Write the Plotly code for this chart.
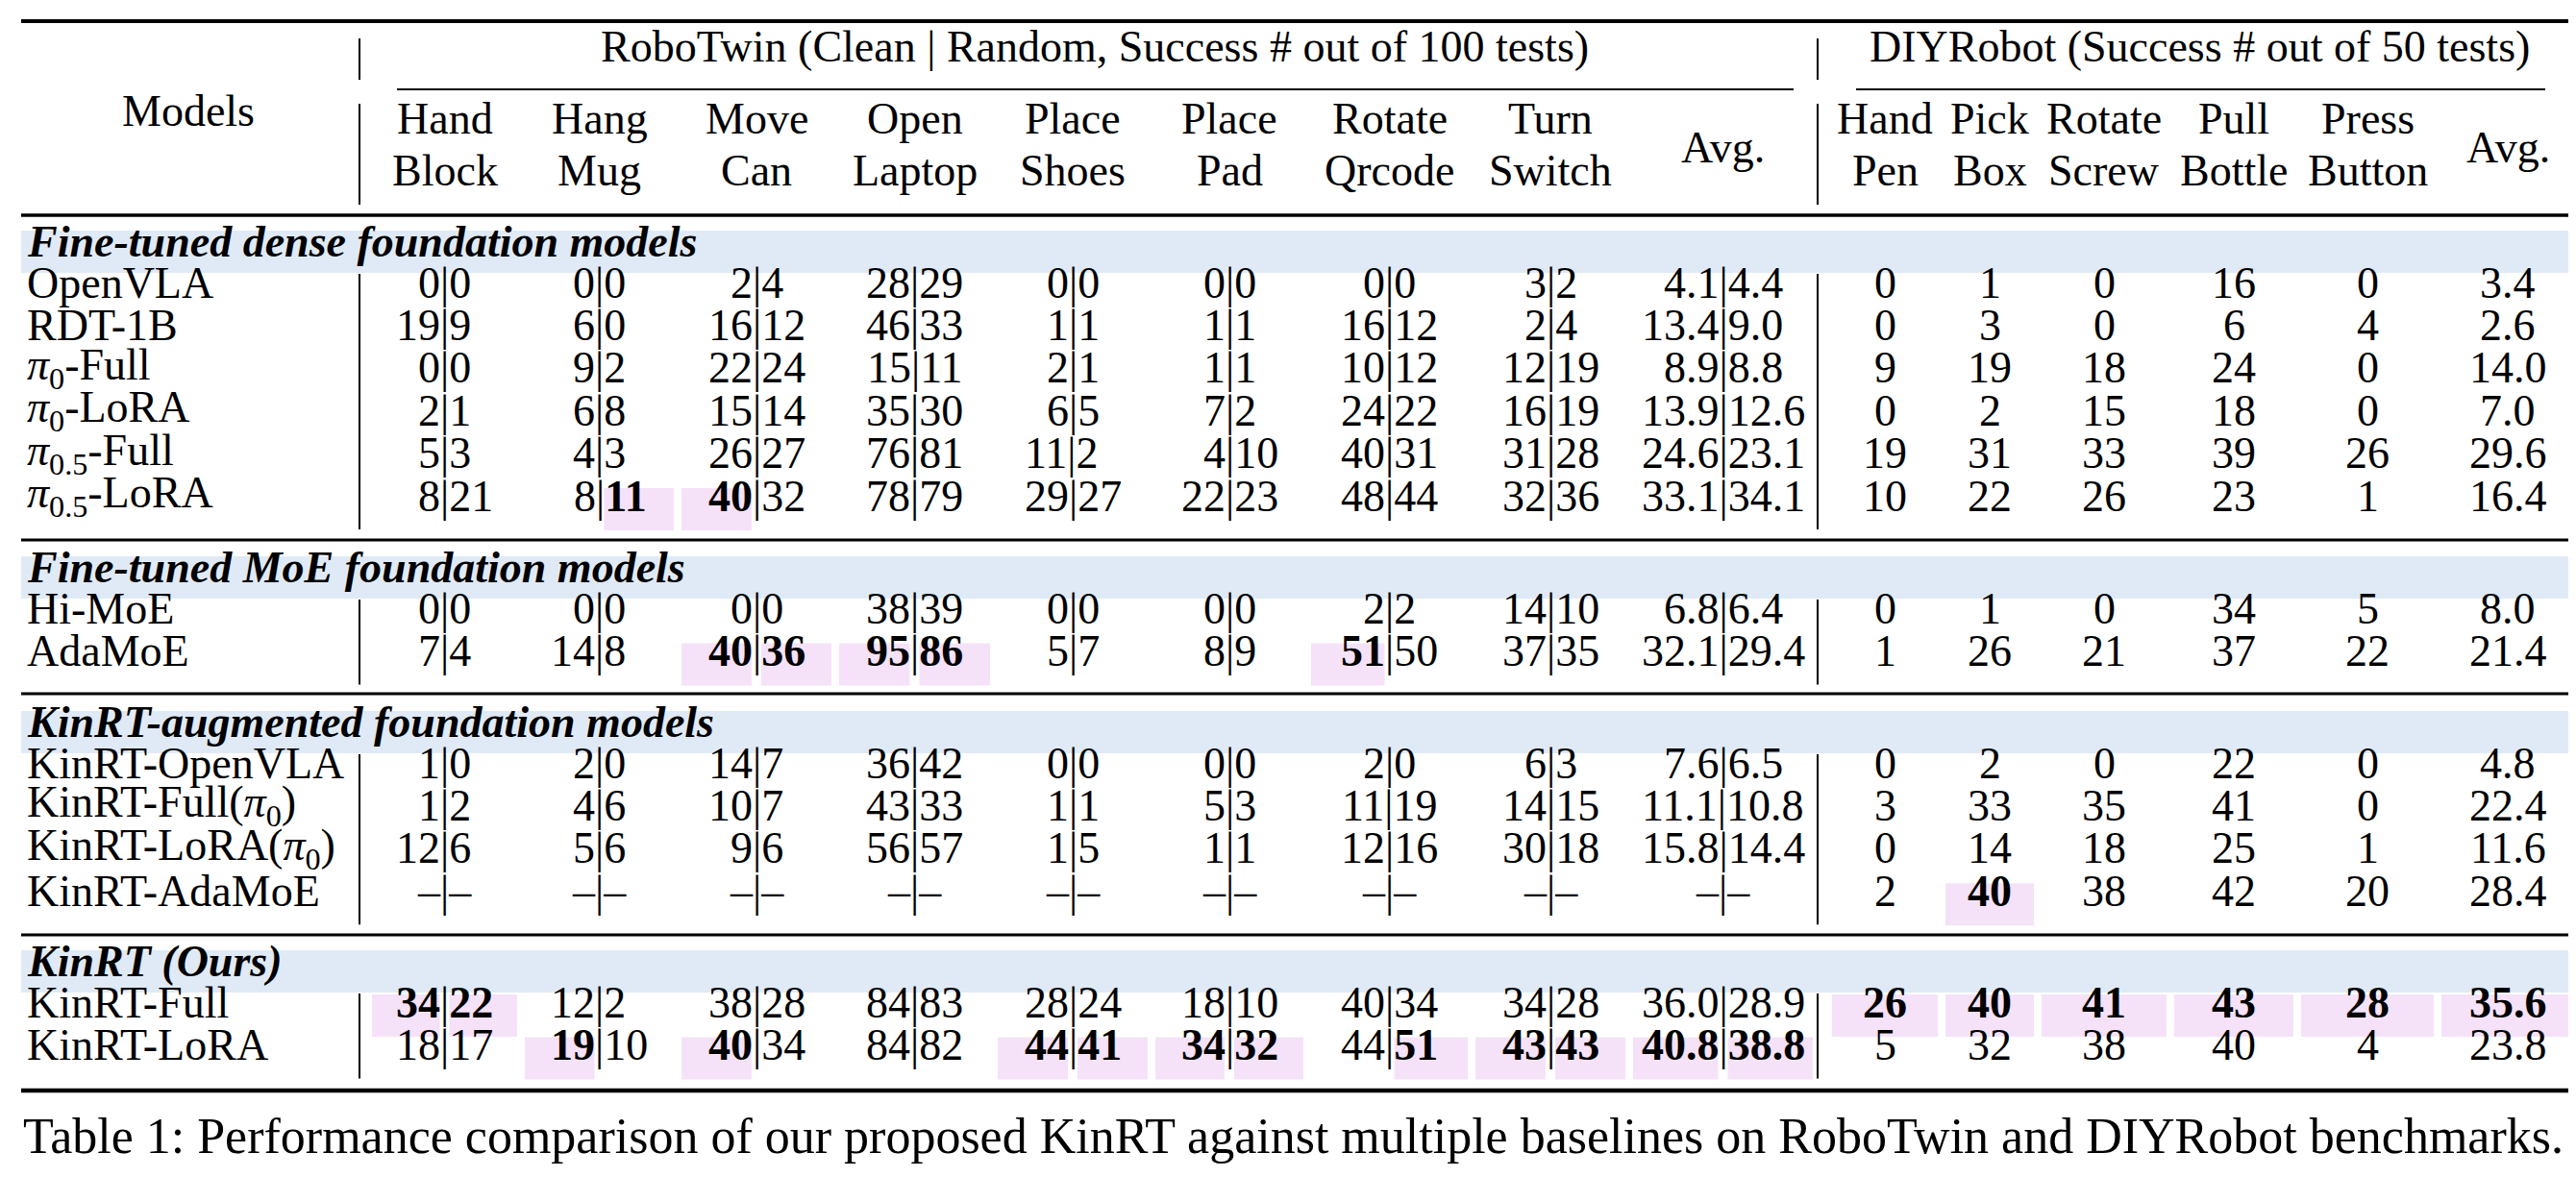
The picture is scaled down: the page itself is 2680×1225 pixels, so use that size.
"""Table 1: KinRT vs baselines on RoboTwin and DIYRobot, drawn as a Plotly figure."""

import plotly.graph_objects as go

# ---- data -----------------------------------------------------------------
MODELS = [
    "OpenVLA", "RDT-1B",
    "<i>π</i><sub>0</sub>-Full", "<i>π</i><sub>0</sub>-LoRA",
    "<i>π</i><sub>0.5</sub>-Full", "<i>π</i><sub>0.5</sub>-LoRA",
    "Hi-MoE", "AdaMoE",
    "KinRT-OpenVLA", "KinRT-Full(<i>π</i><sub>0</sub>)",
    "KinRT-LoRA(<i>π</i><sub>0</sub>)", "KinRT-AdaMoE",
    "KinRT-Full", "KinRT-LoRA",
]
GROUPS = [
    "Fine-tuned dense foundation models",
    "Fine-tuned MoE foundation models",
    "KinRT-augmented foundation models",
    "KinRT (Ours)",
]
GROUP_SIZES = [6, 2, 4, 2]

ROBOTWIN_TITLE = "RoboTwin (Clean | Random, Success # out of 100 tests)"
DIY_TITLE = "DIYRobot (Success # out of 50 tests)"
ROBOTWIN_TASKS = [
    ("Hand", "Block"), ("Hang", "Mug"), ("Move", "Can"), ("Open", "Laptop"),
    ("Place", "Shoes"), ("Place", "Pad"), ("Rotate", "Qrcode"), ("Turn", "Switch"),
    ("Avg.", None),
]
DIY_TASKS = [
    ("Hand", "Pen"), ("Pick", "Box"), ("Rotate", "Screw"), ("Pull", "Bottle"),
    ("Press", "Button"), ("Avg.", None),
]

# RoboTwin: clean | random (None = not evaluated)
HAND_BLOCK_CLEAN = [0, 19, 0, 2, 5, 8, 0, 7, 1, 1, 12, None, 34, 18]
HAND_BLOCK_RANDOM = [0, 9, 0, 1, 3, 21, 0, 4, 0, 2, 6, None, 22, 17]
HANG_MUG_CLEAN = [0, 6, 9, 6, 4, 8, 0, 14, 2, 4, 5, None, 12, 19]
HANG_MUG_RANDOM = [0, 0, 2, 8, 3, 11, 0, 8, 0, 6, 6, None, 2, 10]
MOVE_CAN_CLEAN = [2, 16, 22, 15, 26, 40, 0, 40, 14, 10, 9, None, 38, 40]
MOVE_CAN_RANDOM = [4, 12, 24, 14, 27, 32, 0, 36, 7, 7, 6, None, 28, 34]
OPEN_LAPTOP_CLEAN = [28, 46, 15, 35, 76, 78, 38, 95, 36, 43, 56, None, 84, 84]
OPEN_LAPTOP_RANDOM = [29, 33, 11, 30, 81, 79, 39, 86, 42, 33, 57, None, 83, 82]
PLACE_SHOES_CLEAN = [0, 1, 2, 6, 11, 29, 0, 5, 0, 1, 1, None, 28, 44]
PLACE_SHOES_RANDOM = [0, 1, 1, 5, 2, 27, 0, 7, 0, 1, 5, None, 24, 41]
PLACE_PAD_CLEAN = [0, 1, 1, 7, 4, 22, 0, 8, 0, 5, 1, None, 18, 34]
PLACE_PAD_RANDOM = [0, 1, 1, 2, 10, 23, 0, 9, 0, 3, 1, None, 10, 32]
ROTATE_QRCODE_CLEAN = [0, 16, 10, 24, 40, 48, 2, 51, 2, 11, 12, None, 40, 44]
ROTATE_QRCODE_RANDOM = [0, 12, 12, 22, 31, 44, 2, 50, 0, 19, 16, None, 34, 51]
TURN_SWITCH_CLEAN = [3, 2, 12, 16, 31, 32, 14, 37, 6, 14, 30, None, 34, 43]
TURN_SWITCH_RANDOM = [2, 4, 19, 19, 28, 36, 10, 35, 3, 15, 18, None, 28, 43]
RT_AVG_CLEAN = [4.1, 13.4, 8.9, 13.9, 24.6, 33.1, 6.8, 32.1, 7.6, 11.1, 15.8, None, 36.0, 40.8]
RT_AVG_RANDOM = [4.4, 9.0, 8.8, 12.6, 23.1, 34.1, 6.4, 29.4, 6.5, 10.8, 14.4, None, 28.9, 38.8]

# DIYRobot
HAND_PEN = [0, 0, 9, 0, 19, 10, 0, 1, 0, 3, 0, 2, 26, 5]
PICK_BOX = [1, 3, 19, 2, 31, 22, 1, 26, 2, 33, 14, 40, 40, 32]
ROTATE_SCREW = [0, 0, 18, 15, 33, 26, 0, 21, 0, 35, 18, 38, 41, 38]
PULL_BOTTLE = [16, 6, 24, 18, 39, 23, 34, 37, 22, 41, 25, 42, 43, 40]
PRESS_BUTTON = [0, 4, 0, 0, 26, 1, 5, 22, 0, 0, 1, 20, 28, 4]
DIY_AVG = [3.4, 2.6, 14.0, 7.0, 29.6, 16.4, 8.0, 21.4, 4.8, 22.4, 11.6, 28.4, 35.6, 23.8]

# best results: (model row, task column, 0=clean / 1=random)
BEST_ROBOTWIN = [
    (5, 1, 1), (5, 2, 0),
    (7, 2, 0), (7, 2, 1), (7, 3, 0), (7, 3, 1), (7, 6, 0),
    (12, 0, 0), (12, 0, 1),
    (13, 1, 0), (13, 2, 0), (13, 4, 0), (13, 4, 1), (13, 5, 0), (13, 5, 1),
    (13, 6, 1), (13, 7, 0), (13, 7, 1), (13, 8, 0), (13, 8, 1),
]
BEST_DIY = [(11, 1), (12, 0), (12, 1), (12, 2), (12, 3), (12, 4), (12, 5)]

CAPTION = ("Table 1: Performance comparison of our proposed KinRT against multiple "
           "baselines on RoboTwin and DIYRobot benchmarks.")

RT_PAIRS = [
    (HAND_BLOCK_CLEAN, HAND_BLOCK_RANDOM), (HANG_MUG_CLEAN, HANG_MUG_RANDOM),
    (MOVE_CAN_CLEAN, MOVE_CAN_RANDOM), (OPEN_LAPTOP_CLEAN, OPEN_LAPTOP_RANDOM),
    (PLACE_SHOES_CLEAN, PLACE_SHOES_RANDOM), (PLACE_PAD_CLEAN, PLACE_PAD_RANDOM),
    (ROTATE_QRCODE_CLEAN, ROTATE_QRCODE_RANDOM), (TURN_SWITCH_CLEAN, TURN_SWITCH_RANDOM),
    (RT_AVG_CLEAN, RT_AVG_RANDOM),
]
DIY_COLS = [HAND_PEN, PICK_BOX, ROTATE_SCREW, PULL_BOTTLE, PRESS_BUTTON, DIY_AVG]

# ---- layout (pixels) ------------------------------------------------------
W, H = 2680, 1225
FONT = "Liberation Serif"
FS = 46
CAP_FS = 52
TEXT_DY = -8          # plotly centres the font box a little below the glyphs
BAND = "#e0eaf6"
PINK = "#f5e2f8"
X0, X1 = 14, 2667
SEP_X = [366, 1883]
RT_EDGES = [375, 534, 697, 861, 1026, 1190, 1352, 1523, 1687, 1882]
DIY_EDGES = [1894, 2012, 2112, 2250, 2382, 2528, 2674]
BAND_TOPS = [232, 571, 732, 981]
MID_RULES = [554, 714, 965]
PITCH = 44.4


def fmt(v, avg):
    if v is None:
        return "–"
    return f"{v:.1f}" if avg else str(v)


def em_width(s):
    # Times-metric advance widths: digits and en dash 0.5em, period 0.25em
    return sum(0.25 if c == "." else 0.5 for c in s) * FS


def bold(s, on):
    return f"<b>{s}</b>" if on else s


fig = go.Figure()
fig.add_trace(go.Scatter(x=[0, W], y=[0, H], mode="markers",
                         marker=dict(opacity=0), hoverinfo="skip", showlegend=False))


def text(x, y, s, anchor="center", size=FS):
    fig.add_annotation(x=x, y=y + TEXT_DY, text=s, showarrow=False, xanchor=anchor,
                       yanchor="middle", borderpad=0, borderwidth=0,
                       font=dict(family=FONT, size=size, color="black"))


def hline(y, x0, x1, w):
    fig.add_shape(type="line", x0=x0, x1=x1, y0=y, y1=y,
                  line=dict(color="black", width=w), layer="above")


def vline(x, y0, y1, w=2):
    fig.add_shape(type="line", x0=x, x1=x, y0=y0, y1=y1,
                  line=dict(color="black", width=w), layer="above")


def rect(x0, x1, y0, y1, color):
    fig.add_shape(type="rect", x0=x0, x1=x1, y0=y0, y1=y1,
                  fillcolor=color, line=dict(width=0), layer="below")


# header
hline(14, X0, X1, 4)
text(1131, 48, ROBOTWIN_TITLE)
text(2280, 48, DIY_TITLE)
hline(85, 405, 1858, 2)
hline(85, 1923, 2640, 2)
for sx in SEP_X:
    vline(sx, 32, 75)
    vline(sx, 100, 205)
text(188, 115, "Models")


def header_cell(cx, top, bottom):
    if bottom is None:
        text(cx, 153, top)
    else:
        text(cx, 123, top)
        text(cx, 177, bottom)


for j, (top, bottom) in enumerate(ROBOTWIN_TASKS):
    header_cell((RT_EDGES[j] + RT_EDGES[j + 1]) / 2, top, bottom)
for j, (top, bottom) in enumerate(DIY_TASKS):
    header_cell((DIY_EDGES[j] + DIY_EDGES[j + 1]) / 2, top, bottom)
hline(216, X0, X1, 3.5)

# body
best_rt = set(BEST_ROBOTWIN)
best_diy = set(BEST_DIY)
row = 0
for g, (name, size) in enumerate(zip(GROUPS, GROUP_SIZES)):
    top = BAND_TOPS[g]
    rect(X0, X1, top, top + 44, BAND)
    text(20, top + 19, f"<b><i>{name}</i></b>", anchor="left")
    ys = [top + 62 + k * PITCH for k in range(size)]
    for sx in SEP_X:
        vline(sx, top + 45, ys[-1] + 27)
    for y in ys:
        i = row
        text(20, y, MODELS[i], anchor="left")
        for j, (clean, rand) in enumerate(RT_PAIRS):
            avg = j == len(RT_PAIRS) - 1
            bar = (RT_EDGES[j] + RT_EDGES[j + 1]) / 2
            b0, b1 = (i, j, 0) in best_rt, (i, j, 1) in best_rt
            if b0:
                rect(RT_EDGES[j] + 4, bar - 5, y - 16, y + 28, PINK)
            if b1:
                rect(bar + 5, RT_EDGES[j + 1] - 4, y - 16, y + 28, PINK)
            left, right = fmt(clean[i], avg), fmt(rand[i], avg)
            # shift the centred string so that the bar sits on the column's bar line
            cx = bar - (em_width(left) - em_width(right)) / 2
            text(cx, y, bold(left, b0) + "|" + bold(right, b1))
        for j, col in enumerate(DIY_COLS):
            avg = j == len(DIY_COLS) - 1
            cx = (DIY_EDGES[j] + DIY_EDGES[j + 1]) / 2
            b = (i, j) in best_diy
            if b:
                rect(DIY_EDGES[j] + 4, DIY_EDGES[j + 1] - 4, y - 16, y + 28, PINK)
            text(cx, y, bold(fmt(col[i], avg), b))
        row += 1
    if g < len(MID_RULES):
        hline(MID_RULES[g], X0, X1, 3)
hline(1127, X0, X1, 4.5)

text(16, 1182, CAPTION, anchor="left", size=CAP_FS)

fig.update_layout(
    width=W, height=H,
    margin=dict(l=0, r=0, t=0, b=0),
    paper_bgcolor="white", plot_bgcolor="white",
    showlegend=False,
    xaxis=dict(range=[0, W], visible=False, fixedrange=True),
    yaxis=dict(range=[H, 0], visible=False, fixedrange=True),
)

fig.write_html("out.html")
